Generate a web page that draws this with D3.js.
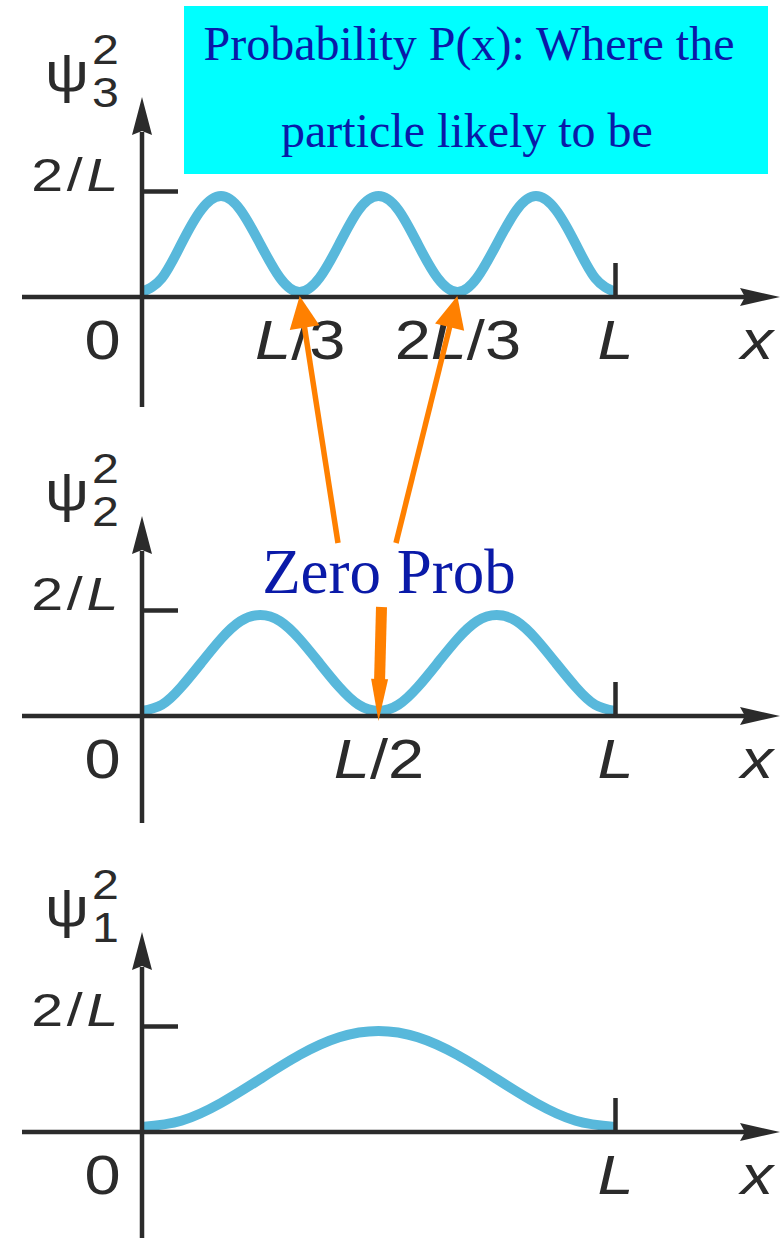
<!DOCTYPE html>
<html>
<head>
<meta charset="utf-8">
<script src="https://cdn.jsdelivr.net/npm/d3@7"></script>
<style>
body { margin: 0; background: #fff; }
svg { display: block; }
</style>
</head>
<body>
<script>
// particle in a box: psi_n^2 for n = 3, 2, 1
const width = 784
const height = 1238

// sample positions along the box (fraction of L)
const pos24 = [0, 0.042, 0.083, 0.125, 0.167, 0.208, 0.25, 0.292, 0.333, 0.375, 0.417, 0.458, 0.5,
    0.542, 0.583, 0.625, 0.667, 0.708, 0.75, 0.792, 0.833, 0.875, 0.917, 0.958, 1]
const pos12 = [0, 0.083, 0.167, 0.25, 0.333, 0.417, 0.5, 0.583, 0.667, 0.75, 0.833, 0.917, 1]

// values, in units of 1/L (top of the box = 2/L)
const psi3 = [0, 0.29, 1, 1.71, 2, 1.71, 1, 0.29, 0, 0.29, 1, 1.71, 2, 1.71, 1, 0.29, 0, 0.29, 1, 1.71, 2, 1.71, 1, 0.29, 0]
const psi2 = [0, 0.13, 0.5, 1, 1.5, 1.87, 2, 1.87, 1.5, 1, 0.5, 0.13, 0, 0.13, 0.5, 1, 1.5, 1.87, 2, 1.87, 1.5, 1, 0.5, 0.13, 0]
const psi1 = [0, 0.13, 0.5, 1, 1.5, 1.87, 2, 1.87, 1.5, 1, 0.5, 0.13, 0]

// x tick values and their labels
const ticks3 = [0, 1 / 3, 2 / 3, 1]
const labels3 = ["0", "L/3", "2L/3", "L"]
const ticks2 = [0, 1 / 2, 1]
const labels2 = ["0", "L/2", "L"]
const ticks1 = [0, 1]
const labels1 = ["0", "L"]
const yTick = [2]
const yLabel = ["2/L"]

const title1 = "Probability P(x): Where the"
const title2 = "particle likely to be"
const note = "Zero Prob"

const axisYs = [297, 716, 1132]
const axisBottoms = [407, 823, 1245]

const panels = [
    { n: 3, pos: pos24, vals: psi3, ticks: ticks3, labels: labels3 },
    { n: 2, pos: pos24, vals: psi2, ticks: ticks2, labels: labels2 },
    { n: 1, pos: pos12, vals: psi1, ticks: ticks1, labels: labels1 }
]

const ink = "#2b2b2b"
const curveColor = "#58b8db"
const orange = "#ff8000"
const blue = "#0a1aa8"
const sans = "'Liberation Sans', Arial, Helvetica, sans-serif"
const serif = "'Liberation Serif', 'Times New Roman', serif"

const svg = d3.select("body")
    .append("svg")
    .attr("width", width)
    .attr("height", height)

const x = d3.scaleLinear().domain([0, 1]).range([142, 615])

// text with L in italics
function fillLabel(sel, str) {
    sel.text(null)
    str.split(/(L)/).filter(s => s.length).forEach(part => {
        sel.append("tspan")
            .attr("font-style", part === "L" ? "italic" : "normal")
            .text(part)
    })
}

const scales = []

panels.forEach((p, i) => {
    const ay = axisYs[i]
    const y = d3.scaleLinear().domain([0, 2]).range([ay, ay - 106])
    // curve sits on the axis line, so shift by half the stroke
    const yc = d3.scaleLinear().domain([0, 2]).range([ay - 5, ay - 101])
    scales.push({ x, y })
    const g = svg.append("g").attr("class", "panel")

    const line = d3.line()
        .x(d => x(d[0]))
        .y(d => yc(d[1]))
        .curve(d3.curveNatural)

    g.append("path")
        .datum(p.pos.map((v, k) => [v, p.vals[k]]))
        .attr("fill", "none")
        .attr("stroke", curveColor)
        .attr("stroke-width", 10)
        .attr("d", line)

    // x axis line with arrow
    g.append("line")
        .attr("x1", 22).attr("x2", 745)
        .attr("y1", ay).attr("y2", ay)
        .attr("stroke", ink).attr("stroke-width", 4.5)
    g.append("path")
        .attr("d", `M780,${ay} L740,${ay - 9} L745,${ay} L740,${ay + 9} Z`)
        .attr("fill", ink)

    // y axis line with arrow
    const yt = ay - 200
    g.append("line")
        .attr("x1", x(0)).attr("x2", x(0))
        .attr("y1", axisBottoms[i]).attr("y2", yt + 35)
        .attr("stroke", ink).attr("stroke-width", 4.5)
    g.append("path")
        .attr("d", `M${x(0)},${yt} L${x(0) + 10},${yt + 38} L${x(0)},${yt + 34} L${x(0) - 10},${yt + 38} Z`)
        .attr("fill", ink)

    // x labels
    const xAxis = d3.axisBottom(x)
        .tickValues(p.ticks)
        .tickSize(0)
        .tickFormat((d, k) => p.labels[k])
    const xg = g.append("g")
        .attr("transform", `translate(0,${ay})`)
        .call(xAxis)
    xg.select(".domain").remove()
    xg.selectAll(".tick text")
        .attr("fill", ink)
        .attr("font-family", sans)
        .attr("font-size", 56)
        .attr("y", 62)
        .attr("dy", 0)
        .attr("transform", "scale(1.16,1)")
        .each(function (d, k) {
            const t = d3.select(this)
            fillLabel(t, p.labels[k])
            if (d === 0) t.attr("text-anchor", "end").attr("x", -22 / 1.16)
        })

    // tick mark at L
    const lg = g.append("g")
        .attr("transform", `translate(0,${ay})`)
        .call(d3.axisBottom(x).tickValues([1]).tickSize(-34).tickFormat(""))
    lg.select(".domain").remove()
    lg.selectAll(".tick line").attr("stroke", ink).attr("stroke-width", 4.5)

    // 2/L tick
    const yAxis = d3.axisLeft(y)
        .tickValues(yTick)
        .tickSize(-36)
        .tickPadding(20)
        .tickFormat((d, k) => yLabel[k])
    const yg = g.append("g")
        .attr("transform", `translate(${x(0)},0)`)
        .call(yAxis)
    yg.select(".domain").remove()
    yg.selectAll(".tick line").attr("stroke", ink).attr("stroke-width", 4.5)
    yg.selectAll(".tick text")
        .attr("fill", ink)
        .attr("font-family", sans)
        .attr("font-size", 47)
        .attr("letter-spacing", 3)
        .attr("x", -20 / 1.22)
        .attr("y", -1)
        .attr("dy", 0)
        .attr("transform", "scale(1.22,1)")
        .each(function (d, k) { fillLabel(d3.select(this), yLabel[k]) })

    // axis name x
    g.append("text")
        .attr("transform", `translate(757,${ay + 62}) scale(1.16,1)`)
        .attr("text-anchor", "middle")
        .attr("font-family", sans)
        .attr("font-style", "italic")
        .attr("font-size", 56)
        .attr("fill", ink)
        .text("x")

    // psi_n^2 label
    g.append("text")
        .attr("transform", `translate(45,${ay - 206}) scale(1.1,1)`)
        .attr("font-family", sans)
        .attr("font-size", 56)
        .attr("fill", ink)
        .text("ψ")
    g.append("text")
        .attr("transform", `translate(92,${ay - 233}) scale(1.15,1)`)
        .attr("font-family", sans)
        .attr("font-size", 42)
        .attr("fill", ink)
        .text("2")
    g.append("text")
        .attr("transform", `translate(92,${ay - 190}) scale(1.15,1)`)
        .attr("font-family", sans)
        .attr("font-size", 42)
        .attr("fill", ink)
        .text(p.n)
})

// title box
svg.append("rect")
    .attr("x", 184).attr("y", 6)
    .attr("width", 584).attr("height", 168)
    .attr("fill", "#00ffff")
svg.append("text")
    .attr("x", 469).attr("y", 60)
    .attr("text-anchor", "middle")
    .attr("font-family", serif)
    .attr("font-size", 48)
    .attr("fill", blue)
    .text(title1)
svg.append("text")
    .attr("x", 467).attr("y", 147)
    .attr("text-anchor", "middle")
    .attr("font-family", serif)
    .attr("font-size", 48)
    .attr("fill", blue)
    .text(title2)

// zero probability note and arrows
svg.append("text")
    .attr("x", 389).attr("y", 593)
    .attr("text-anchor", "middle")
    .attr("font-family", serif)
    .attr("font-size", 63)
    .attr("fill", blue)
    .text(note)

function arrow(x0, y0, x1, y1, w, headLen, headW) {
    const dx = x1 - x0, dy = y1 - y0
    const len = Math.hypot(dx, dy)
    const ux = dx / len, uy = dy / len
    const bx = x1 - ux * headLen, by = y1 - uy * headLen
    svg.append("line")
        .attr("x1", x0).attr("y1", y0)
        .attr("x2", bx + ux * 2).attr("y2", by + uy * 2)
        .attr("stroke", orange).attr("stroke-width", w)
    svg.append("path")
        .attr("d", `M${x1},${y1} L${bx - uy * headW},${by + ux * headW} L${bx + uy * headW},${by - ux * headW} Z`)
        .attr("fill", orange)
}

const s3 = scales[0], s2 = scales[1]
arrow(338, 543, s3.x(1 / 3), s3.y(0) - 1, 5.5, 32, 15)
arrow(396, 543, s3.x(2 / 3), s3.y(0) - 1, 5.5, 32, 15)
arrow(381.5, 607, s2.x(1 / 2), s2.y(0) + 5, 11, 42, 8.5)
</script>
</body>
</html>
